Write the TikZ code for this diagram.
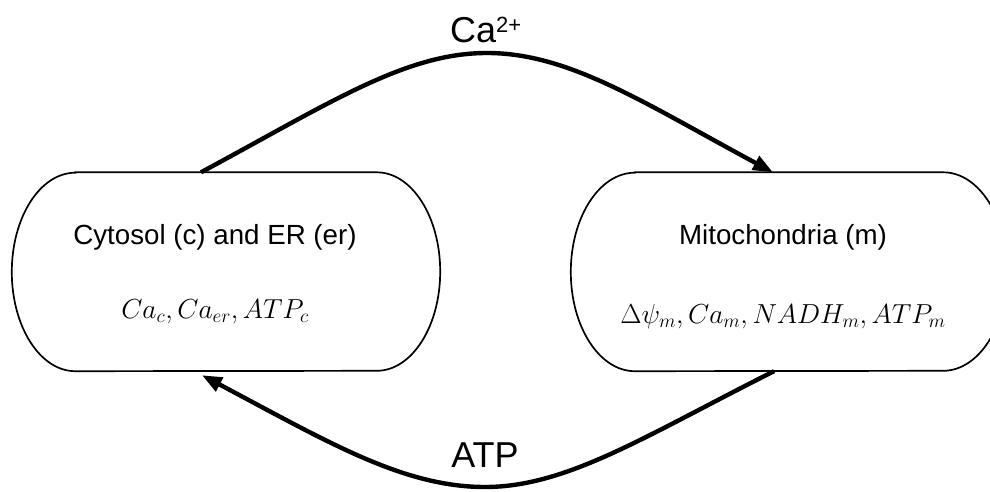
\RequirePackage{fix-cm}
\documentclass[tikz,border=0pt]{standalone}
\usepackage[no-math]{fontspec}
\setmainfont{Liberation Sans}
\usetikzlibrary{arrows.meta,calc}

% outline of a compartment: straight top and bottom, elliptic ends
\newcommand\compartment[2]{%
  \draw[outline] ($(#1.north west)+(#2,0)$) -- ($(#1.north east)+(-#2,0)$)
    arc[start angle=90,end angle=-90,x radius=#2pt,y radius=99.25pt]
    -- ($(#1.south west)+(#2,0)$)
    arc[start angle=270,end angle=90,x radius=#2pt,y radius=99.25pt] -- cycle;}

\begin{document}
\begin{tikzpicture}[x=1pt,y=-1pt,
  region/.style={minimum height=198.5pt,inner sep=0pt,draw=none},
  outline/.style={draw=black,line width=1.7pt},
  flow/.style={line width=4.4pt,-{Triangle[length=20pt,width=15pt]}},
  title/.style={anchor=base,inner sep=0pt,font=\fontsize{27.7}{30}\selectfont},
  vars/.style={anchor=base,inner sep=0pt,font=\fontsize{27.5}{30}\selectfont},
  label/.style={anchor=base,inner sep=0pt,font=\fontsize{36}{36}\selectfont}]
\useasboundingbox (0,0) rectangle (990,492);
\begin{scope}
\clip (0,0) rectangle (990,492);

% compartments
\node[region,minimum width=428pt] (cyto) at (226,271.75) {};
\node[region,minimum width=436pt] (mito) at (789,271.75) {};
\compartment{cyto}{63.5}
\compartment{mito}{64}

% compartment contents
\node[title] (ctitle) at (215,244) {Cytosol (c) and ER (er)};
\node[vars]  (cvars)  at (215,318) {$Ca_c, Ca_{er}, ATP_c$};
\node[title] (mtitle) at (783,244) {Mitochondria (m)};
\node[vars]  (mvars)  at (783,323) {$\Delta\psi_m, Ca_m, NADH_m, ATP_m$};

% exchanges between compartments
\coordinate (catop) at (487,53);
\coordinate (atpbot) at (485,487);
\draw[flow] ([xshift=-25pt]cyto.north)
  .. controls (330,103) and (405,53) .. (catop)
  .. controls (569,53) and (644,103) .. ([xshift=-16pt]mito.north);
\draw[flow] ([xshift=-15pt]mito.south)
  .. controls (645,436) and (567,487) .. (atpbot)
  .. controls (403,487) and (328,442) .. ([shift={(-24,4)}]cyto.south);

\node[label,anchor=base west] (calab) at (450,43)
  {Ca\raisebox{10pt}{\fontsize{22}{22}\selectfont 2+}};
\node[label] (atplab) at (485,467) {ATP};
\end{scope}
\end{tikzpicture}
\end{document}
